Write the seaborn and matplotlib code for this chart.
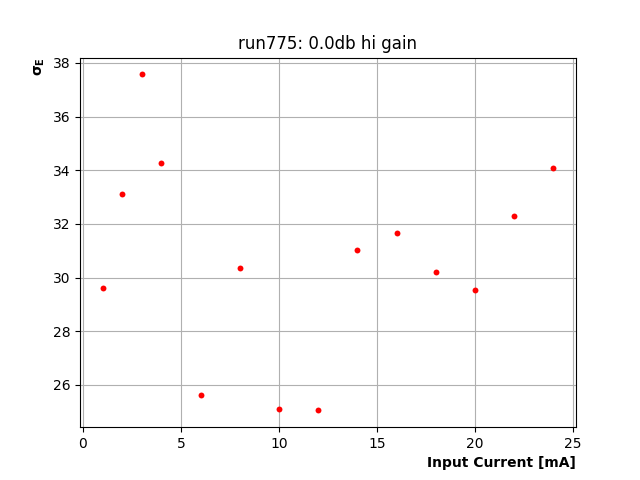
import matplotlib
matplotlib.use("Agg")
import matplotlib.pyplot as plt
import seaborn as sns
import pandas as pd

# input current vs energy resolution
current = [1, 2, 3, 4, 6, 8, 10, 12, 14, 16, 18, 20, 22, 24]
sigma_e = [29.62, 33.1, 37.57, 34.27, 25.62, 30.35, 25.1, 25.05, 31.02, 31.65, 30.22, 29.55, 32.3, 34.1]

df = pd.DataFrame({"current": current, "sigma": sigma_e})

fig, ax = plt.subplots(figsize=(6.4, 4.8), dpi=100)
sns.scatterplot(data=df, x="current", y="sigma", ax=ax, color="red",
                marker="o", s=18, linewidth=0, zorder=3)
ax.margins(0.05)
ax.grid(True, color="#b0b0b0", linewidth=0.8)
ax.set_axisbelow(True)
ax.set_title("run775: 0.0db hi gain")
ax.set_xlabel("Input Current [mA]", loc="right", fontweight="bold")
ax.set_ylabel(r"$\mathbf{\sigma_E}$", loc="top", fontweight="bold")
fig.savefig("out.png", dpi=100)
plt.close(fig)
